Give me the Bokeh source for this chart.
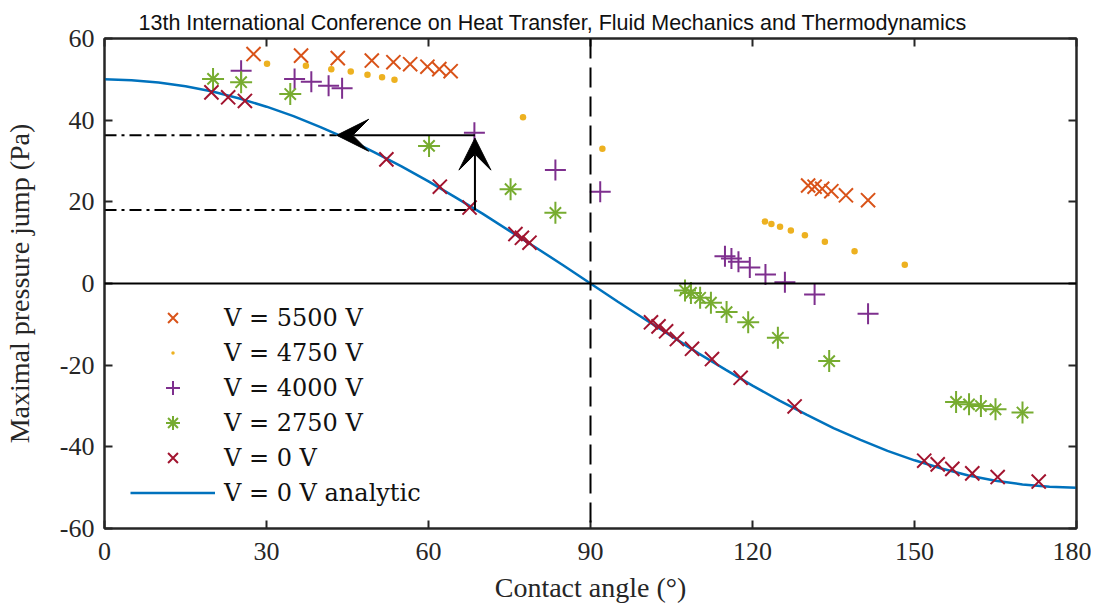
from bokeh.plotting import figure
from bokeh.models import (Range1d, LinearAxis, FixedTicker, Legend, LegendItem,
                          Arrow, VeeHead, Span)
from bokeh.embed import file_html
from bokeh.resources import INLINE

# ---------------- data ----------------
v5500_x = [27.6, 36.4, 43.2, 49.5, 53.5, 56.6, 59.8, 62.0, 64.1,
           130.3, 131.5, 132.9, 134.6, 137.3, 141.4]
v5500_y = [56.2, 55.8, 55.2, 54.6, 54.2, 53.7, 53.1, 52.5, 52.0,
           24.0, 23.7, 23.2, 22.6, 21.6, 20.4]

v4750_x = [30.1, 37.3, 42.0, 45.6, 48.7, 51.4, 53.7, 77.5, 92.2,
           122.3, 123.5, 125.1, 127.1, 129.7, 133.4, 138.9, 148.2]
v4750_y = [53.8, 53.3, 52.5, 51.9, 51.1, 50.5, 49.9, 40.7, 33.0,
           15.2, 14.6, 13.9, 13.0, 11.8, 10.2, 7.9, 4.6]

v4000_x = [25.3, 35.2, 38.3, 41.5, 44.0, 68.5, 83.5, 91.8,
           114.9, 116.1, 117.4, 119.5, 122.4, 126.0, 131.5, 141.4]
v4000_y = [52.1, 50.1, 49.4, 48.4, 47.8, 36.9, 27.8, 22.5,
           6.7, 6.1, 5.3, 3.9, 2.2, 0.3, -2.7, -7.4]

v2750_x = [20.1, 25.3, 34.4, 60.1, 75.2, 83.5,
           107.5, 108.6, 110.3, 112.3, 115.2, 119.2, 124.7, 134.2,
           157.7, 160.1, 162.3, 165.0, 170.0]
v2750_y = [50.1, 49.3, 46.4, 33.7, 23.1, 17.3,
           -1.7, -2.3, -3.5, -4.7, -7.0, -9.5, -13.3, -19.0,
           -29.0, -29.6, -30.0, -30.8, -31.6]

v0_x = [19.8, 22.9, 26.0, 52.2, 62.1, 67.6, 76.1, 77.3, 78.7,
        101.2, 102.6, 104.0, 106.0, 108.8, 112.5, 117.8, 127.8,
        151.8, 154.3, 157.0, 160.7, 165.4, 173.0]
v0_y = [46.8, 45.6, 44.7, 30.4, 23.7, 18.6, 12.1, 11.2, 10.0,
        -9.5, -10.5, -11.7, -13.6, -16.0, -18.5, -23.1, -30.1,
        -43.4, -44.3, -45.4, -46.5, -47.4, -48.5]

analytic_x = [0, 5, 10, 15, 20, 25, 30, 35, 40, 45, 50, 55, 60, 65, 70, 75, 80, 85, 90,
              95, 100, 105, 110, 115, 120, 125, 130, 135, 140, 145, 150, 155, 160, 165,
              170, 175, 180]
analytic_y = [50.0, 49.8, 49.2, 48.3, 47.0, 45.3, 43.3, 41.0, 38.3, 35.4, 32.1, 28.7,
              25.0, 21.1, 17.1, 12.9, 8.7, 4.4, 0.0, -4.4, -8.7, -12.9, -17.1, -21.1,
              -25.0, -28.7, -32.1, -35.4, -38.3, -41.0, -43.3, -45.3, -47.0, -48.3,
              -49.2, -49.8, -50.0]

legend_labels = ["V = 5500 V", "V = 4750 V", "V = 4000 V", "V = 2750 V",
                 "V = 0 V", "V = 0 V analytic"]
x_ticks = [0, 30, 60, 90, 120, 150, 180]
y_ticks = [-60, -40, -20, 0, 20, 40, 60]

# annotation: guide lines and arrows
guide_x0 = [0, 0]
guide_x1 = [43.0, 68.6]
guide_y = [36.3, 18.0]
arrow_h = (68.6, 36.3, 43.0, 36.3)   # x_start, y_start, x_end, y_end
arrow_v = (68.6, 18.0, 68.6, 35.6)

# ---------------- style ----------------
C5500 = "#D95319"
C4750 = "#EDB120"
C4000 = "#7E2F8E"
C2750 = "#77AC30"
C0 = "#A2142F"
CBLUE = "#0072BD"
AX = "#262626"
SERIF = "Liberation Serif"

p = figure(width=1091, height=607, output_backend="svg", toolbar_location=None,
           x_range=Range1d(0, 180), y_range=Range1d(-60, 60),
           min_border_left=101, min_border_right=15, min_border_top=38,
           min_border_bottom=79)
p.xgrid.visible = False
p.ygrid.visible = False
p.outline_line_color = AX
p.outline_line_width = 2

p.title.text = "13th International Conference on Heat Transfer, Fluid Mechanics and Thermodynamics"
p.title.text_font = "Liberation Sans"
p.title.text_font_size = "21.5px"
p.title.text_font_style = "normal"
p.title.text_color = "#111111"
p.title.align = "left"
p.title.offset = 34
p.title.standoff = 8

def style_axis(ax, show_labels=True):
    ax.major_tick_in = 8
    ax.major_tick_out = 0
    ax.minor_tick_in = 0
    ax.minor_tick_out = 0
    ax.axis_line_color = AX
    ax.axis_line_width = 2
    ax.major_tick_line_color = AX
    ax.major_tick_line_width = 2
    ax.major_label_text_font = SERIF
    ax.major_label_text_color = AX
    if show_labels:
        ax.major_label_text_font_size = "26px"
    else:
        ax.major_label_text_font_size = "0px"
        ax.major_label_standoff = 0

p.xaxis.ticker = FixedTicker(ticks=x_ticks)
p.yaxis.ticker = FixedTicker(ticks=y_ticks)
p.yaxis.major_label_overrides = {t: str(t) for t in y_ticks}
style_axis(p.xaxis[0])
style_axis(p.yaxis[0])
p.xaxis.major_label_standoff = 14
p.yaxis.major_label_standoff = 10
p.xaxis.axis_label = "Contact angle (\u00b0)"
p.yaxis.axis_label = "Maximal pressure jump (Pa)"
for ax in (p.xaxis[0], p.yaxis[0]):
    ax.axis_label_text_font = SERIF
    ax.axis_label_text_font_size = "28px"
    ax.axis_label_text_font_style = "normal"
    ax.axis_label_text_color = AX
p.xaxis.axis_label_standoff = 9
p.yaxis.axis_label_standoff = 22

top_ax = LinearAxis(ticker=FixedTicker(ticks=x_ticks))
style_axis(top_ax, show_labels=False)
p.add_layout(top_ax, "above")
right_ax = LinearAxis(ticker=FixedTicker(ticks=y_ticks))
style_axis(right_ax, show_labels=False)
p.add_layout(right_ax, "right")

# reference lines
p.add_layout(Span(location=90, dimension="height", line_color="black",
                  line_width=2, line_dash="20 9"))
p.add_layout(Span(location=0, dimension="width", line_color="black", line_width=2))
p.segment(x0=guide_x0, x1=guide_x1, y0=guide_y, y1=guide_y, line_color="black",
          line_width=2, line_dash="12 5 3 5")

# data
r_ana = p.line(analytic_x, analytic_y, line_color=CBLUE, line_width=2.5)
r5500 = p.scatter(v5500_x, v5500_y, marker="x", size=20, line_color=C5500, line_width=2)
r4750 = p.scatter(v4750_x, v4750_y, marker="dot", size=26, fill_color=C4750,
                  line_color=C4750)
r4000 = p.scatter(v4000_x, v4000_y, marker="cross", size=21, line_color=C4000, line_width=2)
r2750a = p.scatter(v2750_x, v2750_y, marker="cross", size=22, line_color=C2750, line_width=2)
r2750b = p.scatter(v2750_x, v2750_y, marker="x", size=16, line_color=C2750, line_width=2)
r0 = p.scatter(v0_x, v0_y, marker="x", size=20, line_color=C0, line_width=2)

# arrows
for (xs, ys, xe, ye) in (arrow_h, arrow_v):
    p.add_layout(Arrow(x_start=xs, y_start=ys, x_end=xe, y_end=ye,
                       line_color="black", line_width=2,
                       end=VeeHead(size=32, fill_color="black", line_color="black")))

legend = Legend(items=[
    LegendItem(label=legend_labels[0], renderers=[r5500]),
    LegendItem(label=legend_labels[1], renderers=[r4750]),
    LegendItem(label=legend_labels[2], renderers=[r4000]),
    LegendItem(label=legend_labels[3], renderers=[r2750a, r2750b]),
    LegendItem(label=legend_labels[4], renderers=[r0]),
    LegendItem(label=legend_labels[5], renderers=[r_ana]),
], location=(26, 18))
legend.label_text_font = "DejaVu Serif"
legend.label_text_font_size = "24px"
legend.label_text_color = "#111111"
legend.glyph_width = 85
legend.glyph_height = 35
legend.label_height = 35
legend.spacing = 0
legend.padding = 0
legend.margin = 0
legend.label_standoff = 9
legend.border_line_alpha = 0
legend.background_fill_alpha = 0
p.add_layout(legend)

open("out.html", "w").write(file_html(p, INLINE))
